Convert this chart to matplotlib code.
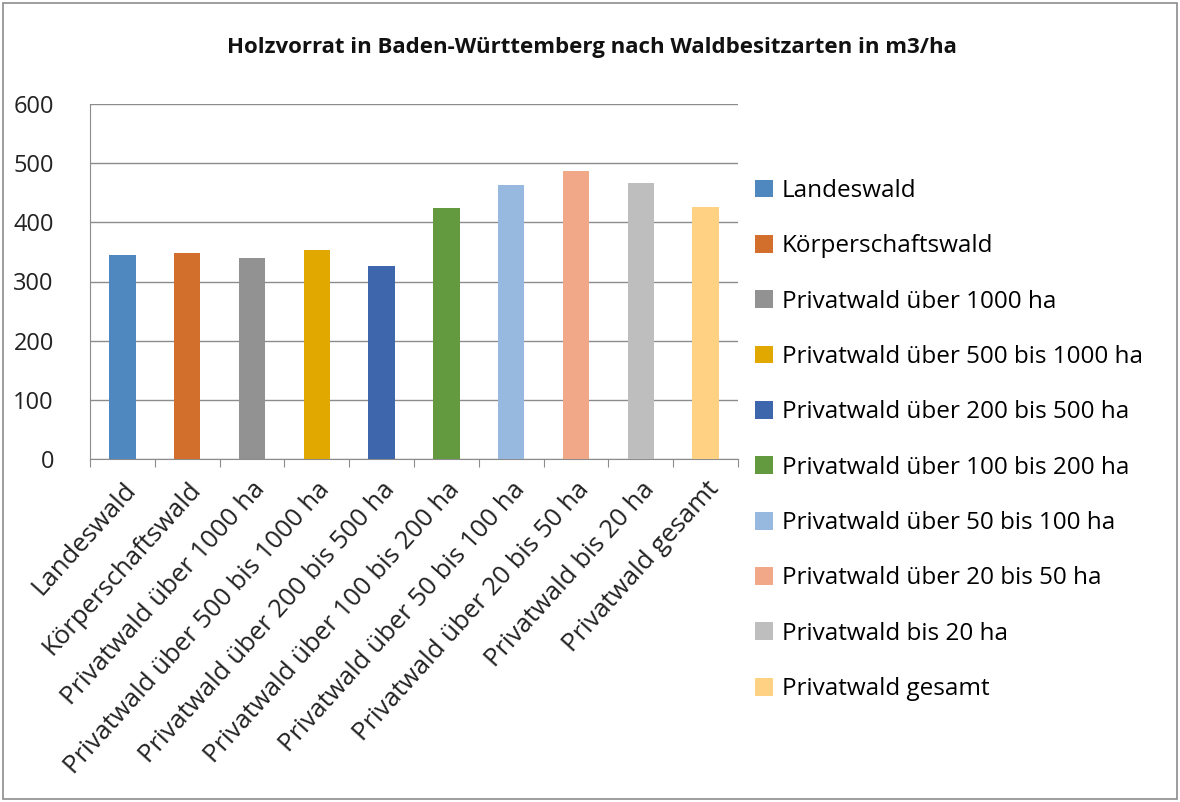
import matplotlib
matplotlib.use("Agg")
import matplotlib.pyplot as plt
from matplotlib.patches import Rectangle, Patch

plt.rcParams['font.family'] = ["Open Sans", 'DejaVu Sans']

categories = ["Landeswald", "Körperschaftswald", "Privatwald über 1000 ha",
              "Privatwald über 500 bis 1000 ha", "Privatwald über 200 bis 500 ha",
              "Privatwald über 100 bis 200 ha", "Privatwald über 50 bis 100 ha",
              "Privatwald über 20 bis 50 ha", "Privatwald bis 20 ha", "Privatwald gesamt"]
values = [344, 349, 339, 354, 327, 424, 463, 486, 466, 426]
colors = ["#4F88BE", "#D36F2D", "#929292", "#E1A800", "#3D66AC",
          "#649A3F", "#98B9DF", "#F0A889", "#BEBEBE", "#FFD183"]
yticks = [0, 100, 200, 300, 400, 500, 600]

W, H = 1180, 802
fig = plt.figure(figsize=(W/100, H/100), dpi=100)
fig.patches.append(Rectangle((3/W, 3/H), 1174/W, 796/H, transform=fig.transFigure,
                             fill=False, edgecolor="#8C8C8C", linewidth=1.2))

ax = fig.add_axes([90/W, 1-459/H, 648/W, 355/H])
x = list(range(len(categories)))
ax.bar(x, values, width=0.41, color=colors, zorder=3)
ax.set_xlim(-0.5, len(categories)-0.5)
ax.set_ylim(0, 600)
ax.set_yticks(yticks)
ax.set_yticklabels([str(v) for v in yticks], fontsize=17)
ax.yaxis.grid(True, color="#8C8C8C", linewidth=1.0, zorder=0)
ax.tick_params(axis='y', length=0, pad=26, labelcolor="#222222")
for s in ["top", "right"]:
    ax.spines[s].set_visible(False)
ax.spines["left"].set_color("#8C8C8C")
ax.spines["bottom"].set_color("#8C8C8C")
ax.set_xticks([i - 0.5 for i in range(len(categories)+1)], minor=False)
ax.set_xticklabels([])
ax.tick_params(axis='x', which='major', length=6, color="#8C8C8C", direction='out')
ax.set_xticks(x, minor=True)
ax.set_xticklabels(categories, minor=True, rotation=48, ha='right',
                   rotation_mode='anchor', fontsize=18.5, color="#222222")
ax.tick_params(axis='x', which='minor', length=0, pad=13)

fig.text(592/W, 1-48/H, "Holzvorrat in Baden-Württemberg nach Waldbesitzarten in m3/ha",
         ha='center', va='center', fontsize=16, fontweight='bold', color="#111111")

handles = [Patch(facecolor=c, edgecolor='none') for c in colors]
fig.legend(handles, categories, loc='upper left', bbox_to_anchor=(755/W, 1-179/H),
           frameon=False, fontsize=17.5, labelspacing=1.29, handlelength=0.75,
           handleheight=0.75, handletextpad=0.35, borderaxespad=0, borderpad=0)

fig.savefig("out.png", dpi=100)
